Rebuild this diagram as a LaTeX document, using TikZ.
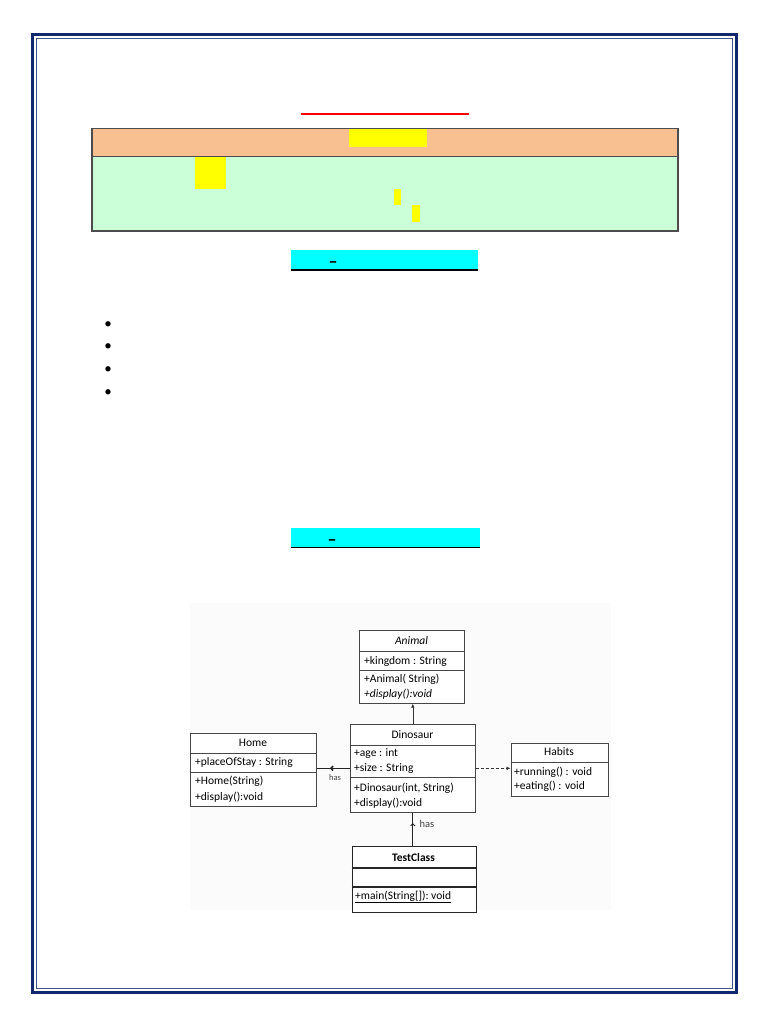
\documentclass[tikz,border=0pt]{standalone}
\usepackage{fontspec}
\setmainfont{Carlito}
\usetikzlibrary{positioning,arrows.meta,decorations.markings}

\definecolor{framecol}{RGB}{18,40,108}
\definecolor{headcol}{RGB}{248,192,144}
\definecolor{bodycol}{RGB}{202,255,216}
\definecolor{markcol}{RGB}{255,255,0}
\definecolor{bandcol}{RGB}{0,255,255}
\definecolor{umlline}{RGB}{70,70,70}

\begin{document}
\begin{tikzpicture}[x=1pt,y=-1pt,
  cls/.style={draw=umlline, line width=0.6pt, fill=white, inner sep=0pt, anchor=north west},
  sep/.style={draw=umlline, line width=0.6pt},
  ttl/.style={font=\fontsize{11.5}{13}\selectfont, inner sep=0pt},
  mem/.style={font=\fontsize{11.5}{13}\selectfont, anchor=west, inner sep=0pt},
  gen/.style={-{Latex[length=4pt,width=3.5pt]}, line width=0.6pt, draw=black!80},
  dep/.style={-{Latex[length=4pt,width=4pt]}, dash pattern=on 3pt off 2pt, line width=0.9pt, draw=black!80},
  nav/.style={postaction={decorate}, decoration={markings,
      mark=at position #1 with {\arrow{Straight Barb[length=2pt,width=4.5pt]}}}},
  lbl/.style={font=\fontsize{8.5}{10}\selectfont, text=black!75, inner sep=0pt},
  blt/.style={font=\fontsize{15}{16}\selectfont, inner sep=0pt},
  dsh/.style={font=\bfseries\fontsize{18}{19}\selectfont, inner sep=0pt}]

\useasboundingbox (0,0) rectangle (768,1024);

% ===== PAGE FRAME =====
\draw[framecol, line width=3pt] (32,34.5) rectangle (736,992);
\draw[framecol!80!white, line width=0.7pt] (36,38.5) rectangle (732,988);

% ===== TITLE RULE =====
\draw[red, line width=2pt] (301,114.5) -- (469,114.5);

% ===== TABLE =====
\fill[headcol] (92,128.5) rectangle (678,156.5);
\fill[bodycol] (92,156.5) rectangle (678,231);
\fill[markcol] (349,129.5) rectangle (427,147);
\fill[markcol] (195,157.5) rectangle (226,189);
\fill[markcol] (394,189) rectangle (401,205.5);
\fill[markcol] (412,205.5) rectangle (420,222);
\draw[black!70, line width=1.2pt] (92,128.5) rectangle (678,231);
\draw[black!70, line width=1.2pt] (92,156.5) -- (678,156.5);

% ===== HEADING BANDS =====
\fill[bandcol] (291,250) rectangle (478,269.5);
\draw[black, line width=1.5pt] (291,270) -- (478,270);
\node[dsh] (dash1) at (333,265) {–};

\fill[bandcol] (291,528) rectangle (480,547);
\draw[black, line width=1.8pt] (291,547.5) -- (480,547.5);
\node[dsh] (dash2) at (332,543) {–};

% ===== BULLETS =====
\foreach \yy [count=\i] in {325,347.5,370,393}
  \node[blt] (bul\i) at (108,\yy) {\textbullet};

% ===== UML BACKGROUND =====
\fill[black!1.5] (190,603) rectangle (611,910);

% ===== ANIMAL =====
\node[cls, minimum width=105pt, minimum height=73pt] (animal) at (359,630) {};
\draw[sep] (359,651) -- (464,651);
\draw[sep] (359,670) -- (464,670);
\node[ttl] (animal-t) at (411.5,640.5) {\itshape Animal};
\node[mem] (animal-a1) at (364,661) {+kingdom : String};
\node[mem] (animal-m1) at (364,679) {+Animal( String)};
\node[mem] (animal-m2) at (364,694) {\itshape +display():void};

% ===== DINOSAUR =====
\node[cls, minimum width=125pt, minimum height=88pt] (dino) at (350,724) {};
\draw[sep] (350,745) -- (475,745);
\draw[sep] (350,777) -- (475,777);
\node[ttl] (dino-t) at (412.5,735) {Dinosaur};
\node[mem] (dino-a1) at (354,754) {+age : int};
\node[mem] (dino-a2) at (354,769) {+size : String};
\node[mem] (dino-m1) at (354,788) {+Dinosaur(int, String)};
\node[mem] (dino-m2) at (354,803) {+display():void};

% ===== HOME =====
\node[cls, minimum width=126pt, minimum height=73pt] (home) at (190,733) {};
\draw[sep] (190,753) -- (316,753);
\draw[sep] (190,772) -- (316,772);
\node[ttl] (home-t) at (253,743) {Home};
\node[mem] (home-a1) at (195,762) {+placeOfStay : String};
\node[mem] (home-m1) at (195,781) {+Home(String)};
\node[mem] (home-m2) at (195,797) {+display():void};

% ===== HABITS =====
\node[cls, minimum width=97pt, minimum height=53pt] (habits) at (510.5,742.5) {};
\draw[sep] (510.5,762) -- (607.5,762);
\node[ttl] (habits-t) at (559,752) {Habits};
\node[mem] (habits-m1) at (514,772) {+running() : void};
\node[mem] (habits-m2) at (514,786) {+eating() : void};

% ===== TESTCLASS =====
\node[cls, draw=black!85, line width=1.1pt, minimum width=124pt, minimum height=66pt] (test) at (351.5,846) {};
\draw[sep, draw=black!85, line width=1.1pt] (351.5,868) -- (475.5,868);
\draw[sep, draw=black!85, line width=1.1pt] (351.5,887) -- (475.5,887);
\node[ttl] (test-t) at (413.5,857) {\bfseries TestClass};
\node[mem] (test-m1) at (355,897) {\underline{+main(String[]):\ void}};

% ===== CONNECTIONS =====
\draw[gen] (dino.north) -- (dino.north |- animal.south);
\draw[dep] (dino.east) -- (dino.east -| habits.west);
\draw[nav=0.6, line width=1.6pt, draw=black!85] (dino.west) -- (dino.west -| home.east);
\draw[nav=0.68, line width=0.9pt, draw=black!85] (test.north -| dino.south) -- (dino.south);

% has labels
\node[lbl] (has1) at (335,778) {has};
\node[lbl, font=\fontsize{10.5}{12}\selectfont] (has2) at (427,824) {has};

\end{tikzpicture}
\end{document}
